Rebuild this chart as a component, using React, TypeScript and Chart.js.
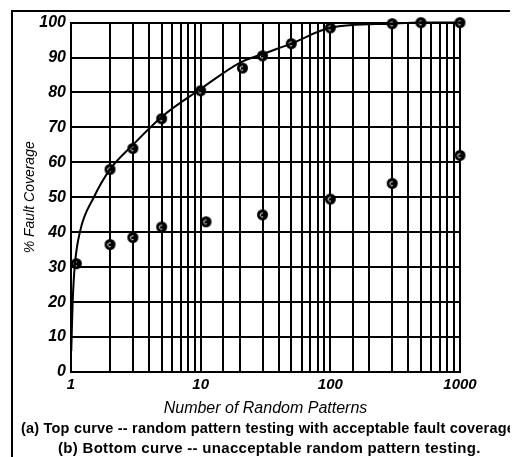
import React, { useEffect, useRef } from "react";
import { Chart, registerables } from "chart.js";

Chart.register(...registerables);

// Fitted top curve
const curveX = [1.005, 1.03, 1.07, 1.17, 1.5, 2, 3, 5, 10, 20, 30, 50, 100, 300, 500, 1000];
const curveY = [6, 20, 30.5, 40, 50, 58, 65, 73, 81, 88.5, 91, 94, 98.5, 99.7, 100, 100];

// Top curve measured points
const topX = [1.1, 2, 3, 5, 10, 21, 30, 50, 100, 300, 500, 1000];
const topY = [31, 58, 64, 72.5, 80.5, 87, 90.5, 94, 98.5, 99.7, 100, 100];

// Bottom curve measured points
const botX = [2, 3, 5, 11, 30, 100, 300, 1000];
const botY = [36.5, 38.5, 41.5, 43, 45, 49.5, 54, 62];

const xTickLabels = ["1", "10", "100", "1000"];
const yTicks = [0, 10, 20, 30, 40, 50, 60, 70, 80, 90, 100];

const xTitle = "Number of Random Patterns";
const yTitle = "% Fault Coverage";
const captionA = "(a) Top curve -- random pattern testing with acceptable fault coverage";
const captionB = "(b) Bottom curve -- unacceptable random pattern testing.";

const FONT = "'Liberation Sans', Arial, Helvetica, sans-serif";

function makeMarker(): HTMLCanvasElement {
  const c = document.createElement("canvas");
  c.width = 13;
  c.height = 13;
  const g = c.getContext("2d")!;
  g.fillStyle = "#000";
  g.beginPath();
  g.arc(6.5, 6.5, 5.5, 0, Math.PI * 2);
  g.fill();
  g.strokeStyle = "#fff";
  g.lineWidth = 1;
  g.beginPath();
  g.arc(6.2, 6.8, 2, 0.35 * Math.PI, 1.65 * Math.PI);
  g.stroke();
  return c;
}

export default function App() {
  const ref = useRef<HTMLCanvasElement | null>(null);

  useEffect(() => {
    if (!ref.current) return;
    const marker = makeMarker();
    const chart = new Chart(ref.current, {
      type: "scatter",
      data: {
        datasets: [
          {
            label: "fit",
            data: curveX.map((x, i) => ({ x, y: curveY[i] })),
            showLine: true,
            borderColor: "#000",
            borderWidth: 2,
            pointRadius: 0,
            cubicInterpolationMode: "monotone",
            clip: false,
          } as any,
          {
            label: "top",
            data: topX.map((x, i) => ({ x, y: topY[i] })),
            pointStyle: marker,
            pointRadius: 6,
            clip: false,
          } as any,
          {
            label: "bottom",
            data: botX.map((x, i) => ({ x, y: botY[i] })),
            pointStyle: marker,
            pointRadius: 6,
            clip: false,
          } as any,
        ],
      },
      options: {
        responsive: false,
        animation: false,
        layout: { padding: { left: 0, top: 14, right: 58, bottom: 33 } },
        plugins: {
          legend: { display: false },
          tooltip: { enabled: false },
          title: { display: false },
        },
        scales: {
          x: {
            type: "logarithmic",
            min: 1,
            max: 1000,
            afterFit: (s: any) => {
              s.height = 52;
            },
            border: { display: true, color: "#000", width: 2 },
            grid: { color: "#000", lineWidth: 2, drawTicks: false },
            ticks: {
              autoSkip: false,
              maxRotation: 0,
              padding: 4,
              color: "#000",
              font: { family: FONT, size: 15, style: "italic", weight: "bold" },
              callback: (v: any) => {
                const s = String(v);
                return xTickLabels.includes(s) ? s : "";
              },
            },
            title: {
              display: true,
              text: xTitle,
              color: "#000",
              padding: { top: 0, bottom: 6 },
              font: { family: FONT, size: 16, style: "italic" },
            },
          },
          y: {
            type: "linear",
            min: 0,
            max: 100,
            afterFit: (s: any) => {
              s.width = 63;
            },
            afterBuildTicks: (s: any) => {
              s.ticks = yTicks.map((v) => ({ value: v }));
            },
            border: { display: true, color: "#000", width: 2 },
            grid: { color: "#000", lineWidth: 2, drawTicks: false },
            ticks: {
              padding: 5,
              color: "#000",
              font: { family: FONT, size: 16, style: "italic", weight: "bold" },
            },
            title: {
              display: true,
              text: yTitle,
              color: "#000",
              padding: { top: 14, bottom: 0 },
              font: { family: FONT, size: 14, style: "italic" },
            },
          },
        },
      },
    });
    return () => chart.destroy();
  }, []);

  return (
    <div style={{ position: "relative", width: 510, height: 449 }}>
      <div
        style={{
          position: "absolute",
          left: 3,
          top: 2,
          width: 507,
          height: 447,
          borderLeft: "2px solid #000",
          borderTop: "2px solid #000",
          boxSizing: "border-box",
        }}
      />
      <canvas ref={ref} width={510} height={449} style={{ position: "absolute", left: 0, top: 0 }} />
      <div
        style={{
          position: "absolute",
          left: 0,
          width: 520,
          top: 412,
          textAlign: "center",
          font: `bold 14.5px ${FONT}`,
          lineHeight: "17px",
          letterSpacing: "0.2px",
          color: "#000",
          whiteSpace: "nowrap",
        }}
      >
        {captionA}
      </div>
      <div
        style={{
          position: "absolute",
          left: 50,
          top: 431,
          font: `bold 15px ${FONT}`,
          lineHeight: "17px",
          letterSpacing: "0.3px",
          color: "#000",
          whiteSpace: "nowrap",
        }}
      >
        {captionB}
      </div>
    </div>
  );
}
